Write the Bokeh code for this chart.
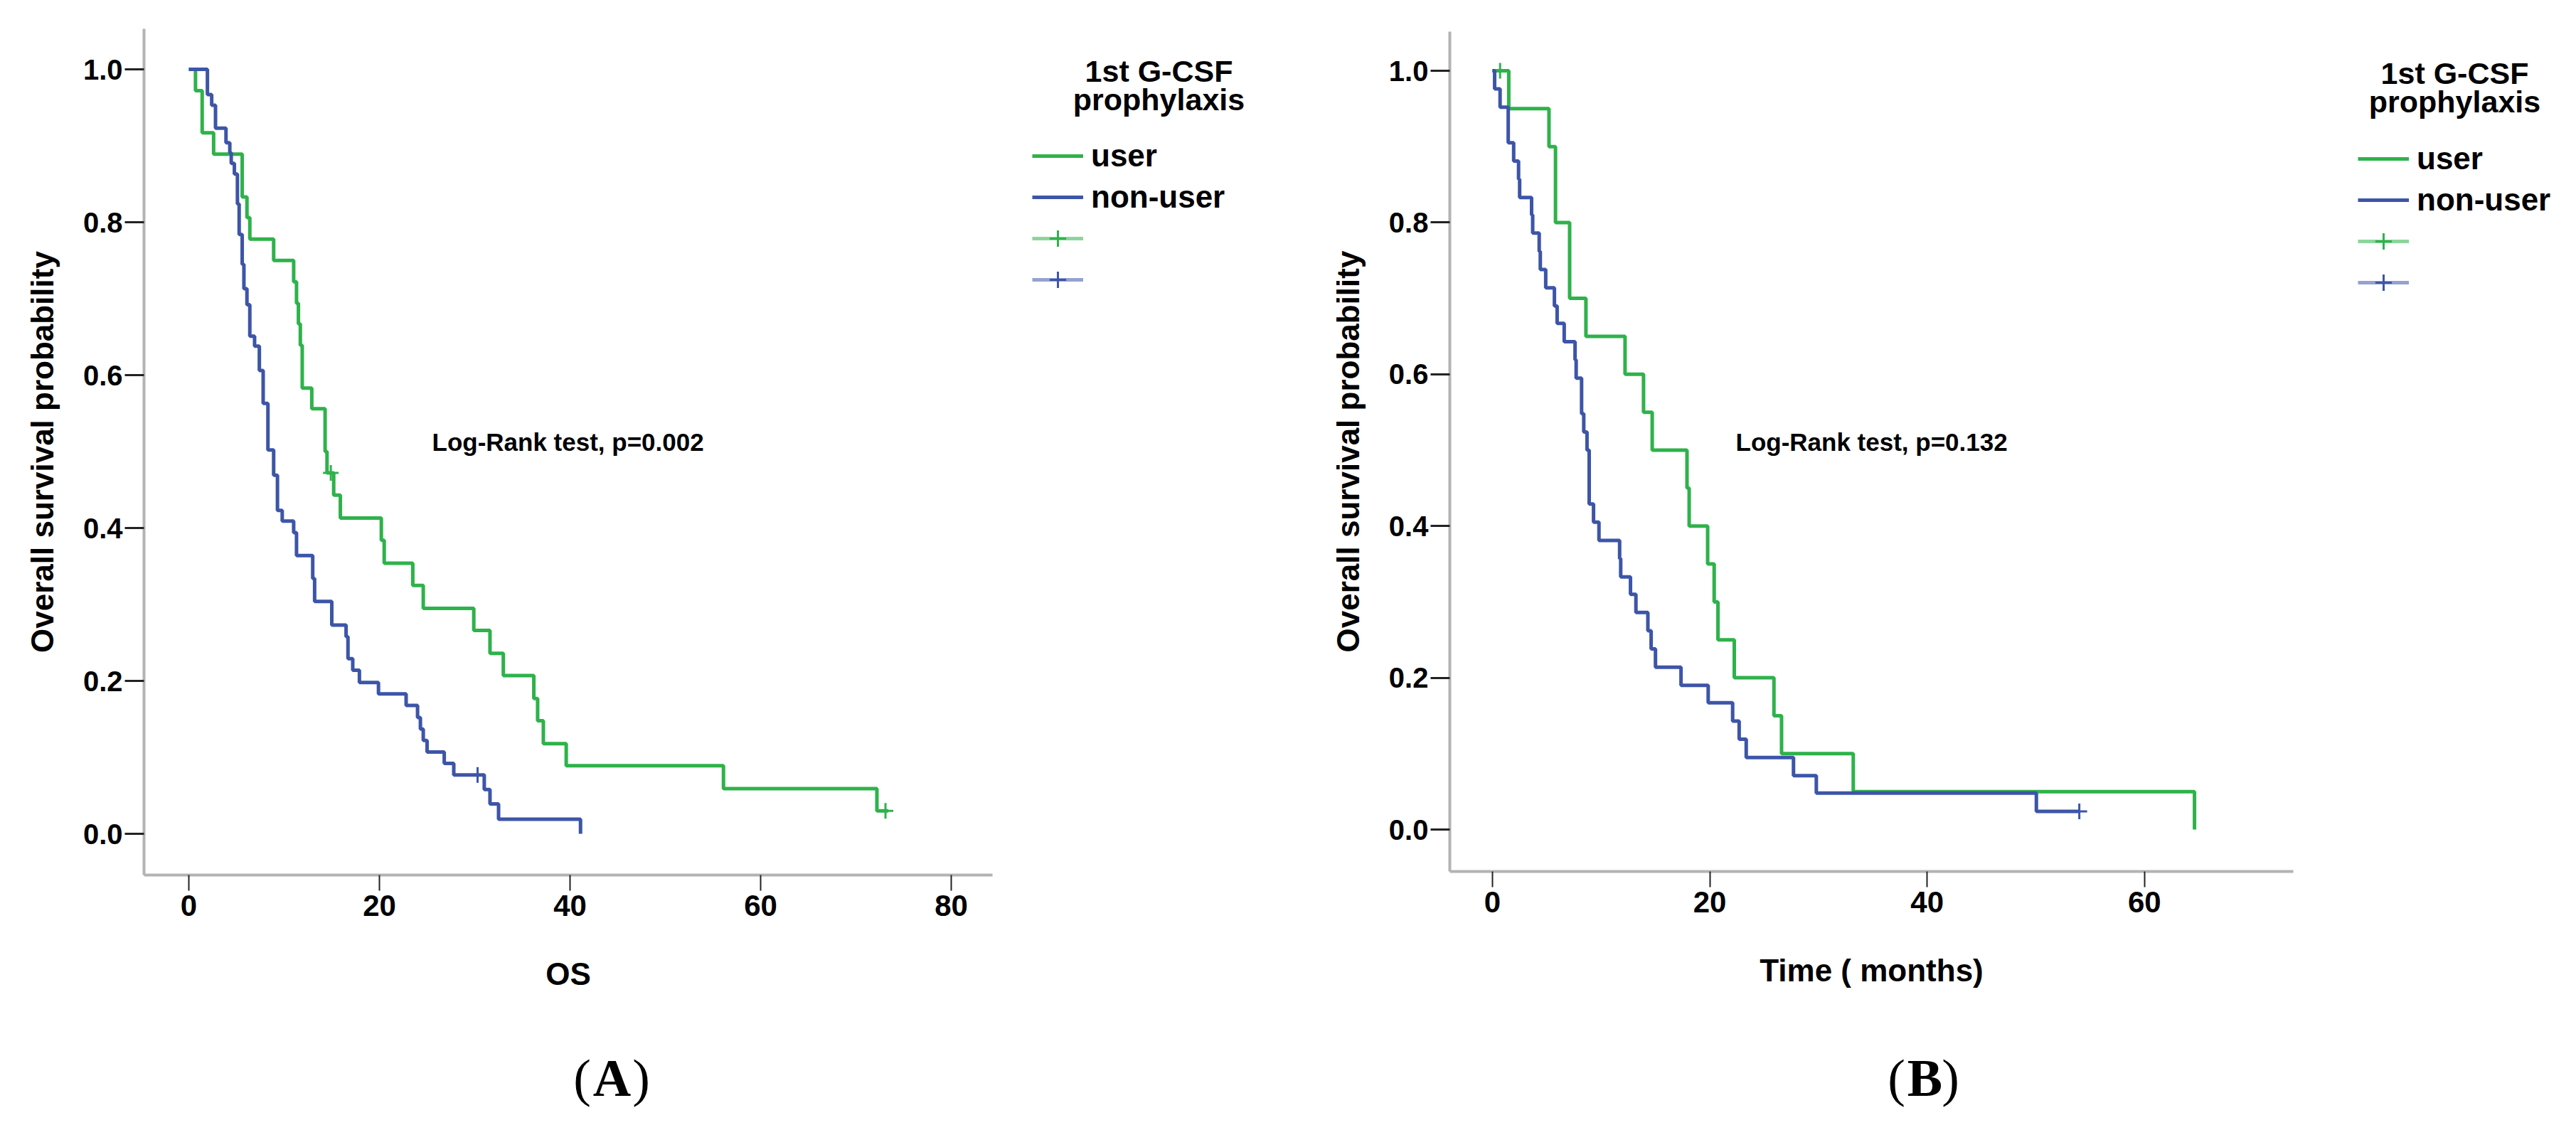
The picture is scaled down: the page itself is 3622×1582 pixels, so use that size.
from bokeh.plotting import figure
from bokeh.models import Range1d, FixedTicker, Label, Legend, LegendItem, PrintfTickFormatter
from bokeh.layouts import row
from bokeh.embed import file_html
from bokeh.resources import INLINE

GREEN = "#2eb24a"
BLUE = "#3d55a8"
FONT = "Liberation Sans"

# ---------------- Panel A (OS) ----------------
a_user_t = [0, 0.7, 1.4, 2.6, 5.6, 6.1, 6.4, 8.9, 11.0, 11.3, 11.5, 11.7, 11.9, 12.9, 14.3, 14.5,
            15.2, 15.9, 20.2, 20.5, 23.5, 24.6, 29.9, 31.6, 33.0, 36.2, 36.6, 37.2, 39.6, 56.1, 72.2, 73.4]
a_user_s = [1.0, 0.972, 0.917, 0.889, 0.833, 0.806, 0.778, 0.750, 0.722, 0.694, 0.667, 0.639, 0.583, 0.556,
            0.500, 0.472, 0.443, 0.413, 0.384, 0.354, 0.325, 0.295, 0.266, 0.236, 0.207, 0.177, 0.148,
            0.118, 0.089, 0.059, 0.030, 0.030]
a_user_cens_t = [14.9, 73.1]
a_user_cens_s = [0.472, 0.030]

a_non_t = [0, 1.95, 2.4, 2.8, 3.9, 4.3, 4.45, 4.78, 5.1, 5.28, 5.6, 5.78, 6.1, 6.4, 6.9, 7.4, 7.8, 8.3,
           8.9, 9.3, 9.8, 11.0, 11.3, 13.0, 13.2, 15.0, 16.5, 16.7, 17.2, 17.9, 19.9, 22.8, 24.0, 24.3,
           24.6, 25.0, 26.8, 27.8, 31.0, 31.6, 32.5, 41.1]
a_non_s = [1.0, 0.967, 0.953, 0.923, 0.904, 0.891, 0.877, 0.863, 0.824, 0.784, 0.745, 0.713, 0.692,
           0.651, 0.638, 0.606, 0.563, 0.502, 0.469, 0.423, 0.409, 0.394, 0.364, 0.334, 0.304, 0.273,
           0.258, 0.229, 0.214, 0.198, 0.183, 0.168, 0.152, 0.137, 0.122, 0.107, 0.092, 0.077, 0.058,
           0.039, 0.019, 0.0]
a_non_cens_t = [30.3]
a_non_cens_s = [0.077]

a_xticks = [0, 20, 40, 60, 80]

# ---------------- Panel B (Time in months) ----------------
b_user_t = [0, 1.5, 5.2, 5.8, 7.1, 8.6, 12.2, 13.9, 14.7, 17.9, 18.1, 19.8, 20.4, 20.75, 22.25, 25.9,
            26.6, 33.2, 64.6]
b_user_s = [1.0, 0.95, 0.90, 0.80, 0.70, 0.65, 0.60, 0.55, 0.50, 0.45, 0.40, 0.35, 0.30, 0.25, 0.20,
            0.15, 0.10, 0.05, 0.0]
b_user_cens_t = [0.7]
b_user_cens_s = [1.0]

b_non_t = [0, 0.2, 0.7, 1.45, 1.95, 2.4, 2.5, 3.6, 3.7, 4.3, 4.4, 4.9, 5.7, 5.95, 6.6, 7.6, 7.7, 8.2,
           8.4, 8.7, 8.9, 9.3, 9.8, 11.7, 11.8, 12.7, 13.2, 14.3, 14.6, 15.0, 17.35, 19.85, 22.1, 22.7,
           23.35, 27.7, 29.8, 50.05, 54.0]
b_non_s = [1.0, 0.976, 0.952, 0.905, 0.881, 0.857, 0.833, 0.810, 0.786, 0.762, 0.738, 0.714, 0.690,
           0.667, 0.643, 0.619, 0.595, 0.548, 0.524, 0.500, 0.429, 0.405, 0.381, 0.357, 0.333, 0.310,
           0.286, 0.262, 0.238, 0.214, 0.190, 0.167, 0.143, 0.119, 0.095, 0.071, 0.048, 0.024, 0.024]
b_non_cens_t = [54.0]
b_non_cens_s = [0.024]

b_xticks = [0, 20, 40, 60]

y_ticks = [0.0, 0.2, 0.4, 0.6, 0.8, 1.0]
group_labels = ["user", "non-user"]
legend_title = ["1st G-CSF", "prophylaxis"]
y_label = "Overall survival probability"

PAGE_TOP, PAGE_BOTTOM = 8, 1574


def make_panel(geo, xticks, xlabel, ut, us, uct, ucs, nt, ns, nct, ncs,
               logrank, lr_px, leg_px, title_px, letter, letter_px):
    fl, fr = geo["fig"]
    px0, kx, py0, ky = geo["map"]
    # data ranges so that the whole figure is the frame
    xr = ((fl - px0) / kx, (fr - px0) / kx)
    yr = ((py0 - PAGE_BOTTOM) / ky, (py0 - PAGE_TOP) / ky)
    (bx0, bx1), (by0, by1) = geo["box"]

    p = figure(frame_width=fr - fl, frame_height=PAGE_BOTTOM - PAGE_TOP,
               x_range=Range1d(*xr), y_range=Range1d(*yr),
               output_backend="svg", toolbar_location=None,
               min_border_left=0, min_border_right=0, min_border_top=0, min_border_bottom=0)
    p.outline_line_color = None
    p.grid.visible = False
    p.background_fill_color = "white"
    p.border_fill_color = "white"

    g = p.step(ut, us, mode="after", line_color=GREEN, line_width=5)
    # zero-length lines at the first censor point: give the legend's censor symbol its long arm
    gl = p.line([uct[0], uct[0]], [ucs[0], ucs[0]], line_color=GREEN, line_width=5, line_alpha=0.55)
    gc = p.scatter(uct, ucs, marker="cross", size=22, line_color=GREEN, line_width=3)
    b = p.step(nt, ns, mode="after", line_color=BLUE, line_width=5)
    bl = p.line([nct[0], nct[0]], [ncs[0], ncs[0]], line_color=BLUE, line_width=5, line_alpha=0.55)
    bc = p.scatter(nct, ncs, marker="cross", size=22, line_color=BLUE, line_width=3)

    # axes anchored at the plot box corner
    xa = p.xaxis[0]
    ya = p.yaxis[0]
    xa.fixed_location = by0
    xa.bounds = (bx0, bx1)
    ya.fixed_location = bx0
    ya.bounds = (by0, by1)
    xa.ticker = FixedTicker(ticks=xticks)
    ya.ticker = FixedTicker(ticks=y_ticks)
    ya.formatter = PrintfTickFormatter(format="%.1f")
    for ax in (xa, ya):
        ax.axis_line_color = "#b3b3b3"
        ax.axis_line_width = 4
        ax.major_tick_line_color = "#222222"
        ax.major_tick_in = 0
        ax.minor_tick_line_color = None
        ax.major_label_text_font = FONT
        ax.major_label_text_font_style = "bold"
        ax.major_label_text_color = "black"
        ax.axis_label_text_font = FONT
        ax.axis_label_text_font_style = "bold"
        ax.axis_label_text_font_size = "44px"
        ax.axis_label_text_color = "black"
    xa.major_tick_out = 22
    xa.major_tick_line_width = 2
    xa.major_label_text_font_size = "42px"
    xa.major_label_standoff = 6
    xa.axis_label = xlabel
    xa.axis_label_standoff = 54
    ya.major_tick_out = 27
    ya.major_tick_line_width = 3
    ya.major_label_text_font_size = "40px"
    ya.major_label_standoff = 3
    ya.axis_label = y_label
    ya.axis_label_standoff = 30

    def sx(px):
        return px - fl

    def sy(py):
        return PAGE_BOTTOM - py

    # legend
    items = [LegendItem(label=group_labels[0], renderers=[g]),
             LegendItem(label=group_labels[1], renderers=[b]),
             LegendItem(label=" ", renderers=[gl, gc]),
             LegendItem(label=" ", renderers=[bl, bc])]
    leg = Legend(items=items, location=(sx(leg_px[0]), sy(leg_px[1])), padding=0, margin=0, spacing=0,
                 glyph_width=72, glyph_height=58, label_height=58, label_standoff=11,
                 label_text_font=FONT, label_text_font_style="bold", label_text_font_size="44px",
                 label_text_color="black",
                 border_line_color=None, background_fill_alpha=0)
    p.add_layout(leg)

    def lab(text, px, py, size, font=FONT, style="bold", align="left"):
        p.add_layout(Label(x=sx(px), y=sy(py), x_units="screen", y_units="screen", text=text,
                           text_font=font, text_font_style=style, text_font_size=size,
                           text_align=align, text_baseline="alphabetic", text_color="black"))

    lab(logrank, lr_px[0], lr_px[1], "35px")
    lab(legend_title[0], title_px[0], title_px[1], "43px", align="center")
    lab(legend_title[1], title_px[0], title_px[2], "43px", align="center")
    lx, ly, dl, dr = letter_px
    lab("(", lx + dl, ly, "74px", font="Liberation Serif", style="normal", align="center")
    lab(letter, lx, ly, "74px", font="Liberation Serif", style="bold", align="center")
    lab(")", lx + dr, ly, "74px", font="Liberation Serif", style="normal", align="center")
    return p


geoA = {"fig": (8, 1846), "map": (273, 13.4, 1180, 1075), "box": ((-4.7, 84.3), (-0.0544, 1.0526))}
geoB = {"fig": (1846, 3614), "map": (2106, 15.28, 1174, 1067), "box": ((-3.93, 73.7), (-0.0553, 1.0515))}

pA = make_panel(geoA, a_xticks, "OS",
                a_user_t, a_user_s, a_user_cens_t, a_user_cens_s,
                a_non_t, a_non_s, a_non_cens_t, a_non_cens_s,
                "Log-Rank test, p=0.002", (615, 629), (1459, 430), (1637, 107, 147),
                "A", (868, 1523, -42, 41))

pB = make_panel(geoB, b_xticks, "Time ( months)",
                b_user_t, b_user_s, b_user_cens_t, b_user_cens_s,
                b_non_t, b_non_s, b_non_cens_t, b_non_cens_s,
                "Log-Rank test, p=0.132", (2448, 629), (3323, 434), (3459, 110, 150),
                "B", (2714, 1523, -40, 36))

layout = row(pA, pB)
open("out.html", "w").write(file_html(layout, INLINE))
